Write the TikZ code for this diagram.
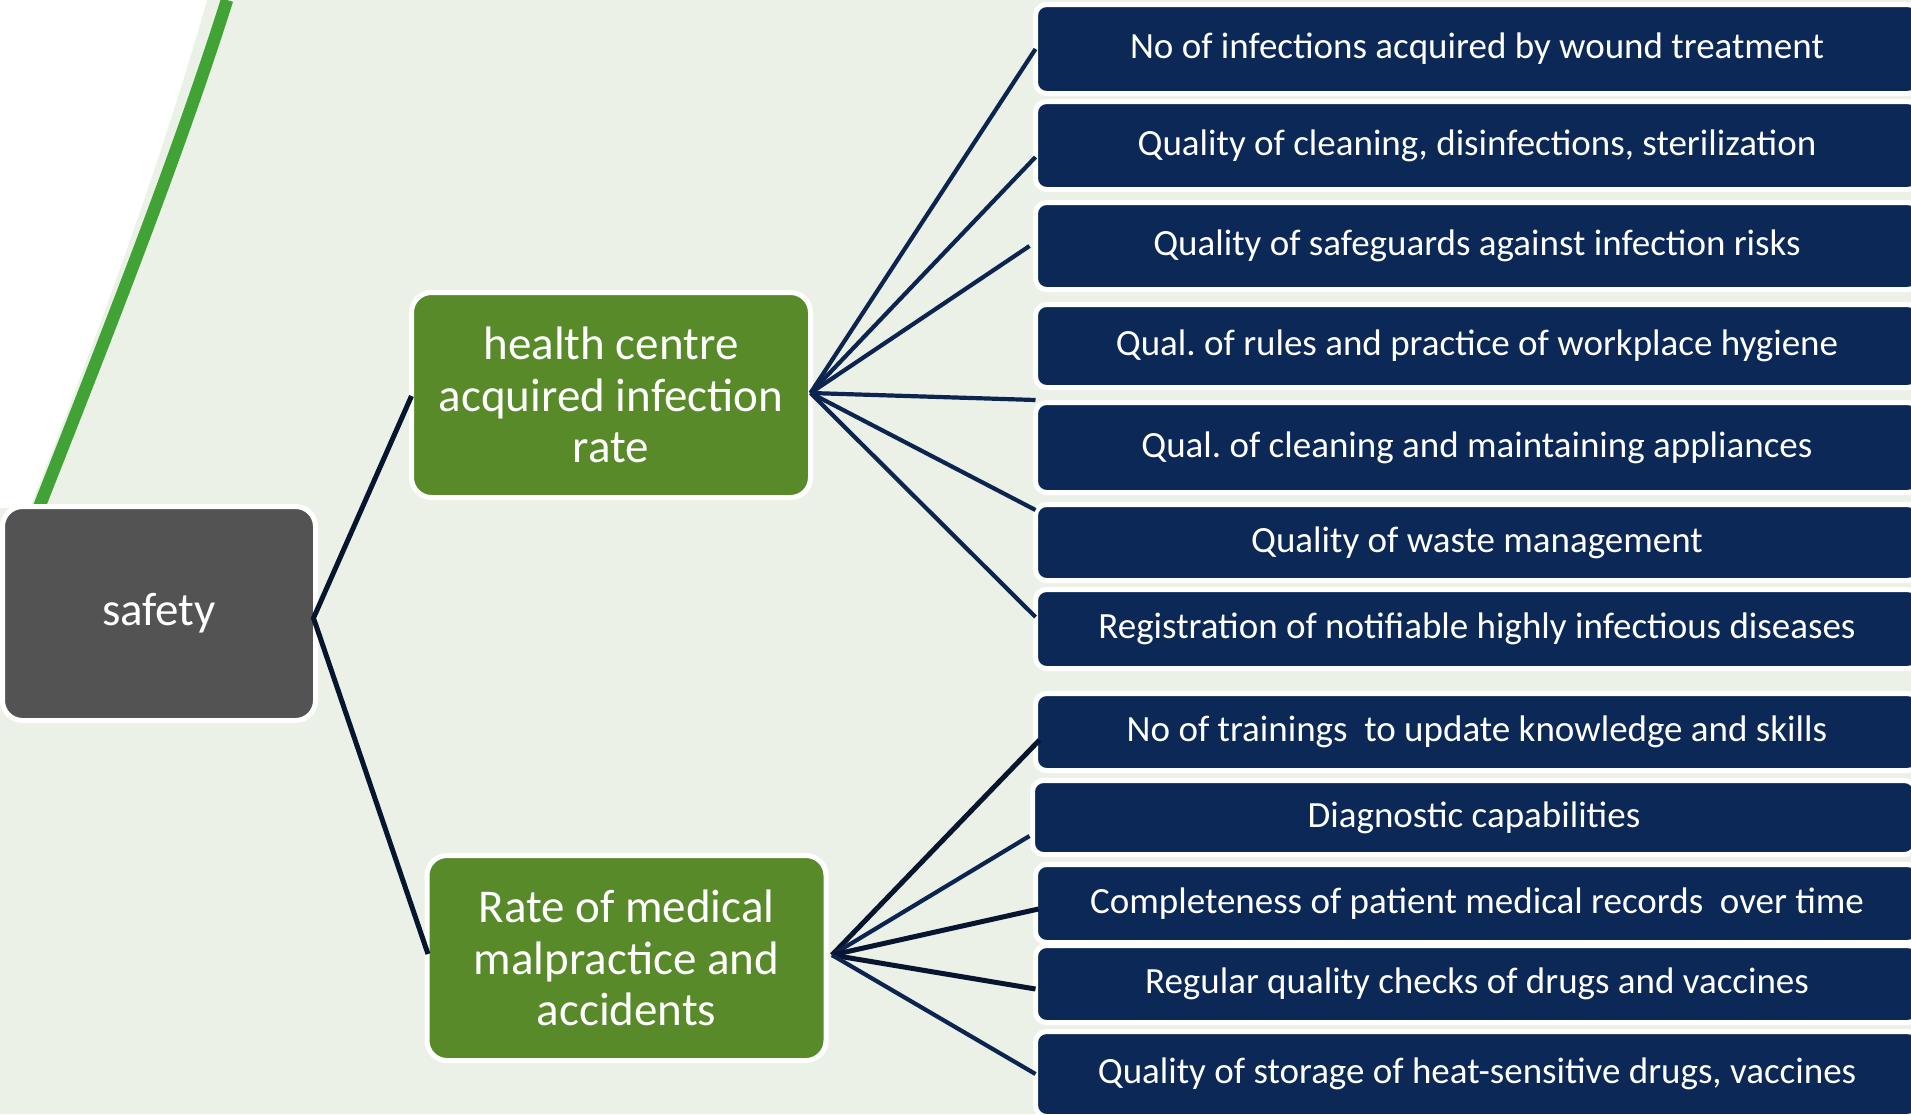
\documentclass[tikz,border=0pt]{standalone}
\usepackage{fontspec}
\setmainfont{Carlito}
\usetikzlibrary{calc}
\definecolor{bgpale}{HTML}{ECF1E7}
\definecolor{leafgreen}{HTML}{41A335}
\definecolor{boxgray}{HTML}{535353}
\definecolor{boxgreen}{HTML}{588A2A}
\definecolor{boxnavy}{HTML}{0B2857}
\definecolor{linenavy}{HTML}{0C2550}
\definecolor{linedark}{HTML}{08152F}
\frenchspacing
\begin{document}
\begin{tikzpicture}[x=1pt,y=-1pt,
  base/.style={draw=white, line width=5pt, text=white, align=center, inner sep=0pt, outer sep=0pt},
  rootbox/.style={base, fill=boxgray, rounded corners=20pt, minimum width=313pt, minimum height=214pt, font=\fontsize{47}{52}\selectfont},
  midbox/.style={base, fill=boxgreen, rounded corners=20pt, minimum width=399pt, minimum height=205pt, font=\fontsize{47}{51.5}\selectfont},
  leafbox/.style={base, fill=boxnavy, rounded corners=11pt, minimum width=883pt, font=\fontsize{37}{44}\selectfont},
  conn/.style={draw=linenavy, line width=4.2pt},
  connd/.style={draw=linedark, line width=5pt},
]
\clip (0,0) rectangle (1911,1114);
\useasboundingbox (0,0) rectangle (1911,1114);
% background
\fill[white] (0,0) rectangle (1911,1114);
\fill[bgpale] (207,0) .. controls (165,150) and (100,330) .. (30,508) -- (0,508) -- (0,1114) -- (1911,1114) -- (1911,0) -- cycle;
\draw[leafgreen, line width=12.5pt] (227,0) .. controls (180,150) and (105,340) .. (34,520);

% nodes
\node[rootbox] (s) at (159,613.5) {safety};
\node[midbox] (g1) at (611,395) {health centre\\acquired infection\\rate};
\node[midbox] (g2) at (626.5,958) {Rate of medical\\malpractice and\\accidents};

\node[leafbox, minimum height=89pt] (r1) at (1477,49) {No of infections acquired by wound treatment};
\node[leafbox, minimum height=88pt] (r2) at (1477,145.5) {Quality of cleaning, disinfections, sterilization};
\node[leafbox, minimum height=87pt] (r3) at (1477,246) {Quality of safeguards against infection risks};
\node[leafbox, minimum height=83pt] (r4) at (1477,346) {Qual. of rules and practice of workplace hygiene};
\node[leafbox, minimum height=90pt] (r5) at (1477,447.5) {Qual. of cleaning and maintaining appliances};
\node[leafbox, minimum height=76pt] (r6) at (1477,542.5) {Quality of waste management};
\node[leafbox, minimum height=79pt] (r7) at (1477,629) {Registration of notifiable highly infectious diseases};
\node[leafbox, minimum height=77pt] (r8) at (1477,732) {No of trainings~ to update knowledge and skills};
\node[leafbox, minimum height=74pt] (r9) at (1474,817.5) {Diagnostic capabilities};
\node[leafbox, minimum height=78pt] (r10) at (1477,903.5) {Completeness of patient medical records~ over time};
\node[leafbox, minimum height=77pt] (r11) at (1477,984) {Regular quality checks of drugs and vaccines};
\node[leafbox, minimum height=85pt] (r12) at (1477,1074) {Quality of storage of heat-sensitive drugs, vaccines};

% hubs
\coordinate (sh) at ($(s.east)+(-2,4.5)$);
\coordinate (h1) at ($(g1.east)+(0,-2)$);
\coordinate (h2) at ($(g2.east)+(6,-3)$);

% connectors
\draw[connd] ($(g1.west)+(0,1)$) -- (sh) -- ($(g2.west)+(1,-4)$);

\draw[conn] (h1) -- (r1.west);
\draw[conn] (h1) -- ($(r2.west)+(0,11.5)$);
\draw[conn] (h1) -- ($(r3.west)+(-6,0)$);
\draw[conn] (h1) -- ($(r4.south west)+(0,12.5)$);
\draw[conn] (h1) -- ($(r6.north west)+(0,5.5)$);
\draw[conn] (h1) -- ($(r7.west)+(0,-12)$);

\draw[connd] (h2) -- ($(r8.west)+(4,8)$);
\draw[conn] (h2) -- ($(r9.west)+(-3,18.5)$);
\draw[connd] (h2) -- ($(r10.west)+(3,5.5)$);
\draw[connd] (h2) -- ($(r11.west)+(0,5)$);
\draw[conn] (h2) -- (r12.west);
\end{tikzpicture}
\end{document}
